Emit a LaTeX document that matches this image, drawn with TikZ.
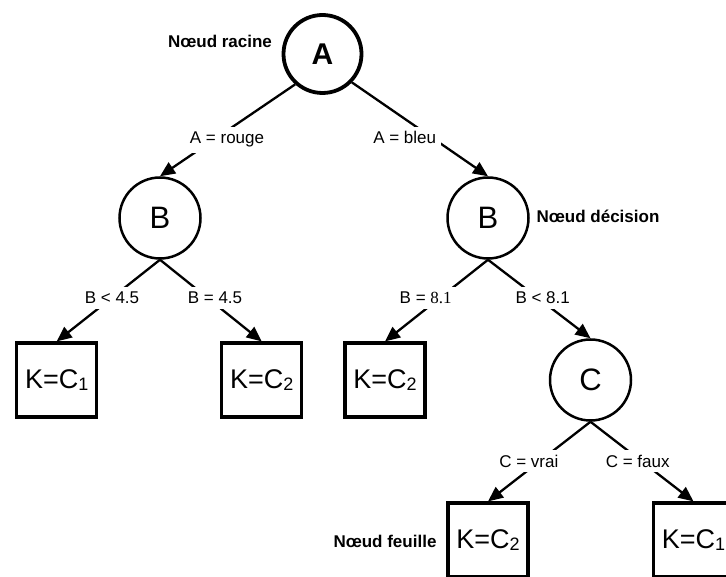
\documentclass[tikz,border=0pt]{standalone}
\usepackage{fontspec}
\setmainfont{Liberation Sans}
\newfontfamily\numserif{Liberation Serif}
\usetikzlibrary{arrows.meta}
\newcommand\sbx[1]{\raisebox{-2.5pt}{\fontsize{18}{18}\selectfont #1}}
\begin{document}
\begin{tikzpicture}[x=1pt,y=-1pt,
  rootnode/.style={circle, draw, line width=3.8pt, minimum size=78pt, inner sep=0pt, font=\fontsize{30}{30}\selectfont\bfseries},
  decnode/.style={circle, draw, line width=2.5pt, minimum size=81pt, inner sep=0pt, font=\fontsize{31}{31}\selectfont},
  leafnode/.style={rectangle, draw, line width=3.2pt, minimum width=80pt, minimum height=74pt, inner sep=0pt, font=\fontsize{27}{27}\selectfont},
  edge/.style={line width=2.3pt},
  arr/.style={edge, -{Triangle[length=15pt,width=13pt]}},
  lbl/.style={fill=white, inner sep=5pt, anchor=base, font=\fontsize{17}{17}\selectfont},
  note/.style={anchor=base, inner sep=0pt, font=\fontsize{17}{17}\selectfont\bfseries}]
\path[use as bounding box] (0,0) rectangle (726,577);
\clip (0,0) rectangle (726,577);

\node[rootnode] (A) at (322.5,54) {A};
\node[decnode] (Bl) at (160,218) {B};
\node[decnode] (Br) at (488,218) {B};
\node[decnode] (C) at (590.5,380) {C};
\node[leafnode] (L1) at (56.7,380) {K=C\sbx{1}};
\node[leafnode] (L2) at (261.7,380) {K=C\sbx{2}};
\node[leafnode] (L3) at (385,380) {K=C\sbx{2}};
\node[leafnode] (L4) at (488,540) {K=C\sbx{2}};
\node[leafnode] (L5) at (693.5,540) {K=C\sbx{1}};

\draw[arr] (A.-132) -- (Bl.north);
\draw[arr] (A.-44) -- (Br.north);
\draw[arr] (Bl.south) -- (L1.north);
\draw[arr] (Bl.south) -- (L2.north);
\draw[arr] (Br.south) -- (L3.north);
\draw[arr] (Br.south) -- (C.north);
\draw[arr] (C.south) -- (L4.north);
\draw[arr] (C.south) -- (L5.north);

\node[lbl] (eAr) at (227,144) {A = rouge};
\node[lbl] (eAb) at (404.7,144) {A = bleu};
\node[lbl] (eB1) at (112,304) {B < 4.5};
\node[lbl] (eB2) at (215,304) {B = 4.5};
\node[lbl] (eB3) at (425.7,304) {B = {\numserif 8.1}};
\node[lbl] (eB4) at (542.7,304) {B < 8.1};
\node[lbl] (eC1) at (528.8,467.3) {C = vrai};
\node[lbl] (eC2) at (637.7,467.3) {C = faux};

\node[note] (nr) at (220,47.7) {Nœud racine};
\node[note] (nd) at (598,223) {Nœud décision};
\node[note] (nf) at (385,547.7) {Nœud feuille};
\end{tikzpicture}
\end{document}
